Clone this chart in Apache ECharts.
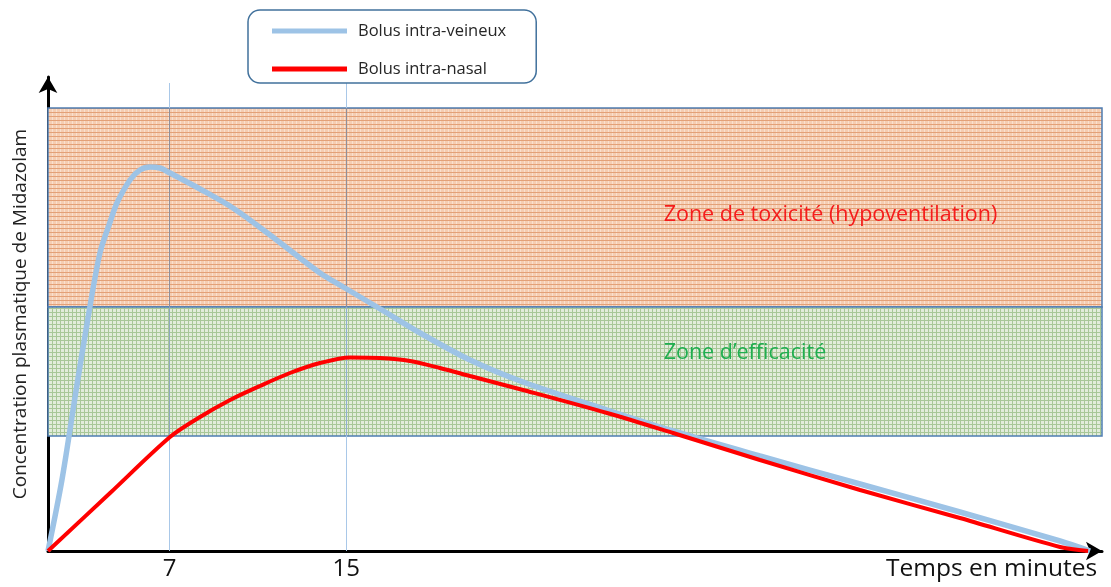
<!DOCTYPE html>
<html>
<head>
<meta charset="utf-8">
<script src="https://cdn.jsdelivr.net/npm/echarts@6/dist/echarts.min.js"></script>
<style>
html,body{margin:0;padding:0;background:#fff;}
#chart{width:1111px;height:587px;}
</style>
</head>
<body>
<div id="chart"></div>
<script>
// ---- data (time in minutes, concentration in arbitrary units) ----
const seriesNames = ['Bolus intra-veineux', 'Bolus intra-nasal'];
const tickValues = [7, 15];
const ivTime = [1.5, 2.13, 2.81, 3.31, 3.85, 4.31, 4.62, 5.21, 5.66, 6.12, 6.57, 7.02, 8.38, 9.87, 11.55, 13.81, 14.94, 16.39, 18.34, 20.6, 23.0, 26.8, 29.79, 33.72, 38.25, 42.77, 47.3, 48.66];
const ivConc = [0, 17.75, 41.5, 58.25, 74.5, 82.25, 87, 92.75, 95.25, 96, 95.75, 94.5, 90.5, 85.75, 79, 69.5, 65.75, 61, 54.5, 47.75, 42.25, 35.25, 30, 23.75, 16.75, 9.75, 2.5, 0];
const inTime = [1.5, 4.31, 7.02, 8.38, 9.74, 11.09, 12.45, 13.81, 15.17, 16.53, 17.88, 19.24, 20.6, 23.0, 26.8, 29.79, 33.72, 38.25, 42.77, 47.3, 48.57];
const inConc = [0, 14.5, 28.5, 33.5, 37.75, 41.25, 44.5, 47, 48.4, 48.25, 47.5, 45.75, 43.75, 40.25, 34.5, 29.5, 22.75, 15.25, 8.25, 1, 0];
const zoneNames = ['Zone de toxicité (hypoventilation)', 'Zone d\u2019efficacité'];
const toxicZone = [61, 110.75];
const efficacyZone = [28.75, 61];
const xRange = [1.5, 49.2];
const yRange = [0, 118.5];
const refLineTop = 117;

function pattern(w, h, base, line, rowEvery, colEvery, colColor) {
  const c = document.createElement('canvas');
  c.width = w; c.height = h;
  const g = c.getContext('2d');
  g.fillStyle = base; g.fillRect(0, 0, w, h);
  g.fillStyle = colColor || line;
  for (let x = 0; x < w; x += colEvery) g.fillRect(x, 0, 1, h);
  g.fillStyle = line;
  for (let y = 0; y < h; y += rowEvery) g.fillRect(0, y, w, 1);
  return { image: c, repeat: 'repeat' };
}
const toxicFill = pattern(8, 4, '#f5cdb2', '#e3a077', 4, 4, '#f9e0cf');
const effFill = pattern(4, 4, '#e2ecdb', '#a8c798', 4, 4);

const zip = (a, b) => a.map((v, i) => [v, b[i]]);

const chart = echarts.init(document.getElementById('chart'));
const FONT = '"Open Sans", "Noto Sans", sans-serif';
chart.setOption({
  animation: false,
  textStyle: { fontFamily: FONT },
  grid: { left: 48, right: 9, top: 77, bottom: 36 },
  title: {
    text: 'Temps en minutes', left: 886, top: 557, padding: 0,
    textStyle: { fontSize: 24.5, fontWeight: 'normal', color: '#111', fontFamily: FONT }
  },
  legend: {
    data: seriesNames,
    orient: 'vertical', left: 248, top: 10,
    padding: [11, 30, 4, 24],
    backgroundColor: '#fff', borderColor: '#41719c', borderWidth: 1.5, borderRadius: 12,
    icon: 'rect', itemWidth: 75, itemHeight: 5, itemGap: 18,
    textStyle: { fontSize: 16.5, color: '#262626', lineHeight: 20, padding: [0, 0, 0, 6], fontFamily: FONT },
    z: 20
  },
  xAxis: {
    type: 'value', min: xRange[0], max: xRange[1],
    axisLine: { lineStyle: { color: '#000', width: 3 }, symbol: ['none', 'arrow'], symbolSize: [14, 16] },
    axisTick: { show: false },
    splitLine: { show: false },
    axisLabel: { customValues: tickValues, fontSize: 24, color: '#111', margin: 6, fontFamily: FONT }
  },
  yAxis: {
    type: 'value', min: yRange[0], max: yRange[1],
    name: 'Concentration plasmatique de Midazolam', nameLocation: 'middle', nameGap: 18,
    nameTextStyle: { fontSize: 19, color: '#222', fontFamily: FONT },
    axisLine: { lineStyle: { color: '#000', width: 3 }, symbol: ['none', 'arrow'], symbolSize: [14, 16] },
    axisTick: { show: false }, axisLabel: { show: false }, splitLine: { show: false }
  },
  series: [
    {
      name: 'zones', type: 'line', data: [], z: 1, silent: true,
      markLine: {
        silent: true, symbol: 'none', z: 1,
        label: { show: false },
        data: [
          [{ coord: [tickValues[0], 0], lineStyle: { color: '#a9c8e8', width: 1, type: 'solid' } }, { coord: [tickValues[0], refLineTop] }],
          [{ coord: [tickValues[1], 0], lineStyle: { color: '#a9c8e8', width: 1, type: 'solid' } }, { coord: [tickValues[1], refLineTop] }]
        ]
      },
      markArea: {
        silent: true,
        data: [
          [{
            name: zoneNames[0], xAxis: 'min', yAxis: toxicZone[1],
            itemStyle: { color: toxicFill, borderColor: '#4f7db3', borderWidth: 1.5 },
            label: { show: true, position: ['58.4%', '53.8%'], align: 'left', verticalAlign: 'middle', color: '#f51c1c', fontSize: 21.5, fontFamily: FONT }
          }, { xAxis: 'max', yAxis: toxicZone[0] }],
          [{
            name: zoneNames[1], xAxis: 'min', yAxis: efficacyZone[1],
            itemStyle: { color: effFill, borderColor: '#4f7db3', borderWidth: 1.5 },
            label: { show: true, position: ['58.4%', '35.7%'], align: 'left', verticalAlign: 'middle', color: '#1fae4f', fontSize: 21.5, fontFamily: FONT }
          }, { xAxis: 'max', yAxis: efficacyZone[0] }]
        ]
      }
    },
    {
      name: 'refs', type: 'line', data: [], z: 2, silent: true,
      markLine: {
        silent: true, symbol: 'none',
        label: { show: false },
        data: [
          [{ coord: [tickValues[0], toxicZone[0]], lineStyle: { color: '#8d8f9c', width: 1, type: 'solid' } }, { coord: [tickValues[0], toxicZone[1]] }],
          [{ coord: [tickValues[1], toxicZone[0]], lineStyle: { color: '#8d8f9c', width: 1, type: 'solid' } }, { coord: [tickValues[1], toxicZone[1]] }],
          [{ coord: [tickValues[0], efficacyZone[0]], lineStyle: { color: '#8fa7c0', width: 1, type: 'solid' } }, { coord: [tickValues[0], efficacyZone[1]] }],
          [{ coord: [tickValues[1], efficacyZone[0]], lineStyle: { color: '#8fb0d3', width: 1, type: 'solid' } }, { coord: [tickValues[1], efficacyZone[1]] }]
        ]
      }
    },
    {
      name: seriesNames[0], type: 'line', z: 5,
      data: zip(ivTime, ivConc), smooth: 0.3, showSymbol: false,
      itemStyle: { color: '#9dc3e6' },
      lineStyle: { color: '#9dc3e6', width: 5.5 }
    },
    {
      name: seriesNames[1], type: 'line', z: 6,
      data: zip(inTime, inConc), smooth: 0.3, showSymbol: false,
      itemStyle: { color: '#ff0000' },
      lineStyle: { color: '#ff0000', width: 4 }
    }
  ]
});
</script>
</body>
</html>
